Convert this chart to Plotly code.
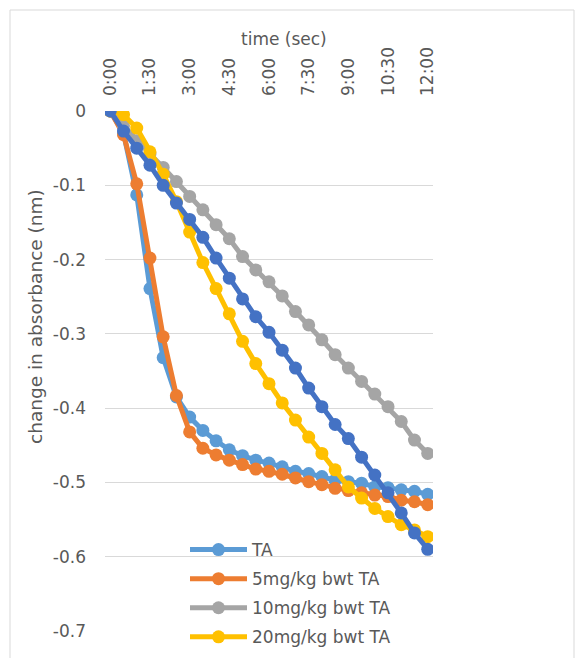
import plotly.graph_objects as go

times = ["0:00", "0:30", "1:00", "1:30", "2:00", "2:30", "3:00", "3:30", "4:00",
         "4:30", "5:00", "5:30", "6:00", "6:30", "7:00", "7:30", "8:00", "8:30",
         "9:00", "9:30", "10:00", "10:30", "11:00", "11:30", "12:00"]

ta = [0, -0.03, -0.113, -0.239, -0.332, -0.385, -0.412, -0.43, -0.444, -0.456,
      -0.464, -0.47, -0.474, -0.479, -0.485, -0.488, -0.492, -0.497, -0.499,
      -0.501, -0.506, -0.507, -0.51, -0.512, -0.516]
ta5 = [0, -0.032, -0.098, -0.198, -0.304, -0.383, -0.432, -0.454, -0.463, -0.47,
       -0.476, -0.482, -0.485, -0.489, -0.494, -0.499, -0.503, -0.508, -0.511,
       -0.514, -0.517, -0.519, -0.524, -0.526, -0.53]
ta10 = [0, -0.02, -0.04, -0.058, -0.076, -0.095, -0.115, -0.133, -0.153, -0.172,
        -0.196, -0.214, -0.23, -0.249, -0.27, -0.288, -0.308, -0.328, -0.346,
        -0.364, -0.381, -0.398, -0.418, -0.443, -0.461]
ta20 = [0, -0.005, -0.023, -0.055, -0.085, -0.122, -0.163, -0.204, -0.239, -0.273,
        -0.31, -0.34, -0.367, -0.393, -0.416, -0.439, -0.461, -0.483, -0.506,
        -0.521, -0.535, -0.546, -0.557, -0.564, -0.573]
extra = [0, -0.027, -0.05, -0.073, -0.1, -0.124, -0.146, -0.17, -0.198, -0.225,
         -0.253, -0.277, -0.298, -0.322, -0.346, -0.373, -0.398, -0.422, -0.441,
         -0.466, -0.49, -0.514, -0.541, -0.568, -0.59]

series_names = ["TA", "5mg/kg bwt TA", "10mg/kg bwt TA", "20mg/kg bwt TA", ""]
series_vals = [ta, ta5, ta10, ta20, extra]
colors = ["#5B9BD5", "#ED7D31", "#A5A5A5", "#FFC000", "#4472C4"]

x_tick_labels = ["0:00", "1:30", "3:00", "4:30", "6:00", "7:30", "9:00", "10:30", "12:00"]
y_tick_vals = [0, -0.1, -0.2, -0.3, -0.4, -0.5, -0.6, -0.7]
y_tick_text = ["0", "-0.1", "-0.2", "-0.3", "-0.4", "-0.5", "-0.6", "-0.7"]

FONT = "DejaVu Sans"
TXT = "#595959"
W, H = 576, 658

fig = go.Figure()
for i, (name, vals, c) in enumerate(zip(series_names, series_vals, colors)):
    fig.add_trace(go.Scatter(
        x=times, y=vals, name=name, mode="lines+markers",
        line=dict(color=c, width=5),
        marker=dict(color=c, size=13),
        showlegend=(name != ""),
        legendgroup="g%d" % i,
    ))

fig.update_layout(
    width=W, height=H,
    margin=dict(l=105, r=143, t=111, b=27, autoexpand=False),
    paper_bgcolor="white", plot_bgcolor="white",
    font=dict(family=FONT, size=17, color=TXT),
    showlegend=True,
    legend=dict(x=(185 - 105) / 328, y=(631 - 532) / 520,
                xanchor="left", yanchor="top",
                bgcolor="rgba(0,0,0,0)", itemwidth=57, tracegroupgap=4,
                font=dict(family=FONT, size=17, color=TXT)),
    xaxis=dict(type="category", side="top", range=[-0.4, 24.4],
               tickvals=x_tick_labels, ticktext=x_tick_labels,
               tickangle=-90, showgrid=False, zeroline=False,
               showline=False, ticks="", ticklabelstandoff=14,
               tickfont=dict(family=FONT, size=17, color=TXT)),
    yaxis=dict(range=[-0.7, 0], tickvals=y_tick_vals, ticktext=y_tick_text,
               showgrid=True, gridcolor="#D9D9D9", gridwidth=1,
               zeroline=False, showline=False, ticks="",
               ticklabelstandoff=18,
               tickfont=dict(family=FONT, size=17, color=TXT)),
    annotations=[
        dict(text="time (sec)", xref="paper", yref="paper",
             x=(284 - 105) / 328, y=(631 - 39) / 520,
             xanchor="center", yanchor="middle", showarrow=False,
             font=dict(family=FONT, size=17, color=TXT)),
        dict(text="change in absorbance (nm)", xref="paper", yref="paper",
             x=(35 - 105) / 328, y=(631 - 317) / 520, textangle=-90,
             xanchor="center", yanchor="middle", showarrow=False,
             font=dict(family=FONT, size=18.5, color=TXT)),
    ],
    shapes=[
        dict(type="rect", xref="paper", yref="paper",
             x0=(10 - 105) / 328, x1=(574 - 105) / 328,
             y0=(631 - 700) / 520, y1=(631 - 10) / 520,
             line=dict(color="#D9D9D9", width=1), layer="below"),
    ],
)

fig.write_html("out.html")
